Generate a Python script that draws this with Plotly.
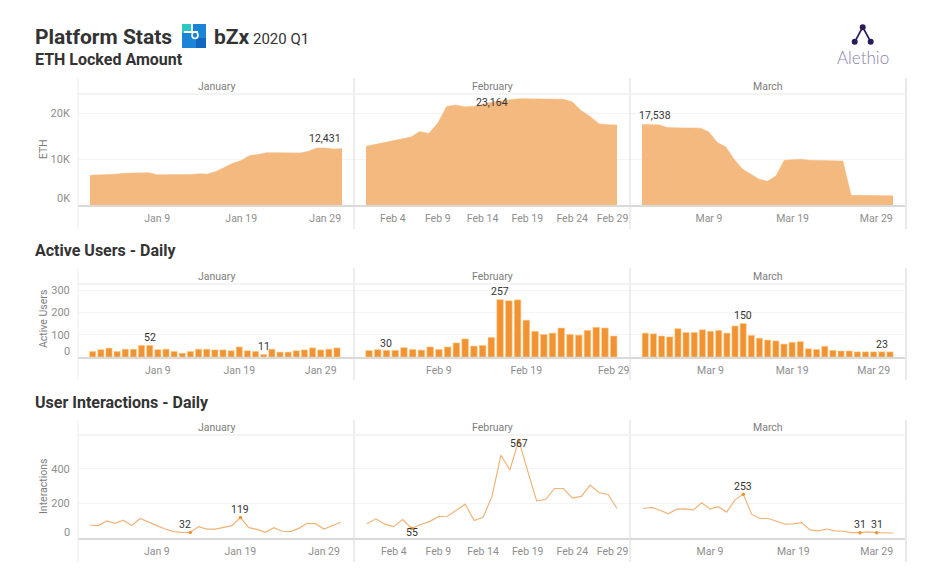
import pandas as pd
import plotly.graph_objects as go

W, H = 946, 584

# ---------- data ----------
months = ["January", "February", "March"]
jan_dates = pd.date_range("2020-01-01", "2020-01-31").strftime("%Y-%m-%d").tolist()
feb_dates = pd.date_range("2020-02-01", "2020-02-29").strftime("%Y-%m-%d").tolist()
mar_dates = pd.date_range("2020-03-01", "2020-03-31").strftime("%Y-%m-%d").tolist()

eth_jan = [6500, 6550, 6600, 6700, 6900, 6950, 7000, 7050, 6600, 6600, 6550, 6600, 6650, 6800, 6750, 7300,
           8200, 9100, 9700, 10800, 11000, 11400, 11400, 11400, 11400, 11350, 11700, 12400, 12431, 12200, 12300]
eth_feb = [12800, 13200, 13500, 13900, 14300, 14800, 16000, 15600, 17800, 21500, 21800, 21400, 21500, 22000, 22400,
           22700, 22900, 23164, 23164, 23164, 23164, 23120, 23050, 22500, 20600, 19300, 17700, 17500, 17450]
eth_mar = [17538, 17500, 17500, 16900, 16800, 16800, 16800, 16750, 15900, 13600, 12700, 10000, 7850, 6700, 5600, 5200,
           6300, 9750, 9800, 10000, 9750, 9750, 9750, 9750, 9600, 2100, 2100, 2100, 2050, 2050, 2000]

users_jan = [25, 33, 40, 25, 35, 35, 52, 52, 33, 35, 25, 17, 25, 35, 35, 32, 32, 28, 45, 28, 25, 11, 35, 22, 22, 28,
             32, 41, 32, 35, 41]
users_feb = [29, 33, 30, 30, 42, 34, 31, 45, 34, 45, 63, 81, 49, 52, 88, 257, 252, 256, 165, 115, 101, 107, 130, 101,
             98, 119, 133, 130, 94]
users_mar = [107, 104, 94, 90, 127, 110, 110, 122, 115, 119, 107, 139, 150, 97, 84, 76, 72, 58, 66, 69, 37, 34, 48,
             30, 27, 27, 23, 23, 23, 23, 23]

inter_jan = [74, 72, 99, 85, 103, 72, 113, 91, 72, 52, 37, 33, 32, 66, 52, 52, 64, 72, 119, 60, 50, 33, 60, 39, 37,
             56, 85, 83, 52, 72, 91]
inter_feb = [82, 111, 80, 66, 107, 55, 78, 95, 124, 126, 161, 196, 101, 120, 241, 480, 394, 567, 388, 215, 223, 287,
             287, 231, 241, 307, 262, 252, 171]
inter_mar = [171, 177, 161, 140, 167, 169, 163, 204, 167, 181, 150, 221, 253, 138, 113, 113, 97, 80, 82, 89, 47, 41,
             52, 41, 39, 31, 31, 35, 31, 31, 29]

section_titles = ["ETH Locked Amount", "Active Users - Daily", "User Interactions - Daily"]
y_titles = ["ETH", "Active Users", "Interactions"]

eth_ticks = [10000, 20000]
eth_ticktext = ["10K", "20K"]
users_ticks = [100, 200, 300]
inter_ticks = [200, 400]

ticks_row1 = [["Jan 9", "Jan 19", "Jan 29"],
              ["Feb 4", "Feb 9", "Feb 14", "Feb 19", "Feb 24", "Feb 29"],
              ["Mar 9", "Mar 19", "Mar 29"]]
ticks_row2 = [["Jan 9", "Jan 19", "Jan 29"],
              ["Feb 9", "Feb 19", "Feb 29"],
              ["Mar 9", "Mar 19", "Mar 29"]]
ticks_row3 = ticks_row1

# (column, day index from 1, text)
eth_labels = [(0, 29, "12,431"), (1, 15, "23,164"), (2, 1, "17,538")]
users_labels = [(0, 8, "52"), (0, 22, "11"), (1, 3, "30"), (1, 16, "257"), (2, 13, "150"), (2, 30, "23")]
inter_labels = [(0, 13, "32"), (0, 19, "119"), (1, 6, "55"), (1, 18, "567"), (2, 13, "253"), (2, 27, "31"), (2, 29, "31")]

# ---------- layout constants ----------
TXT = "#333333"
TICK = "#8e8e8e"
STRIP = "#7d7d7d"
GRID = "#f4f4f4"
BASE = "#d9d9d9"
AREA = "#f4b97f"
BAR = "#f19233"
BAR_EDGE = "#fbd08f"
LINE = "#f2b378"
FONT = "Roboto"

dates = [jan_dates, feb_dates, mar_dates]
col_edges = [(78, 354), (354, 630), (630, 906)]
# pixel position of first and last day in each panel
row_cal = [
    [(90, 342), (366, 617), (642, 893)],
    [(92.7, 337), (369, 613.7), (645.3, 890)],
    [(90, 340.7), (367, 617), (643.3, 893.3)],
]
# top of panel, strip line, baseline, bottom of panel
row_geo = [(78, 94, 205, 229), (268, 284, 357, 380), (420, 435, 538, 562)]
y_ranges = [(0, 24200), (0, 327), (0, 597)]


def px(x):
    return x / W


def py(y):
    return 1 - y / H


def x_range(col, row):
    a, b = row_cal[row][col]
    n = len(dates[col]) - 1
    rate = (b - a) / n
    start = pd.Timestamp(dates[col][0])
    left, right = col_edges[col]
    return [(start + pd.Timedelta(days=(left - a) / rate)).isoformat(),
            (start + pd.Timedelta(days=(right - a) / rate)).isoformat()]


def tick_date(label, row):
    mon, day = label.split()
    m = {"Jan": 1, "Feb": 2, "Mar": 3}[mon]
    ts = pd.Timestamp(2020, m, int(day))
    if label == "Feb 29" and row != 1:
        ts -= pd.Timedelta(hours=12)  # end label is pulled inside the panel
    return ts.isoformat()


def note(x, y, text, size, color, xanchor="center", **kw):
    return dict(xref="paper", yref="paper", x=px(x), y=py(y), text=text, showarrow=False, xanchor=xanchor,
                yanchor="middle", font=dict(family=kw.pop("family", FONT), size=size, color=color), **kw)


fig = go.Figure()
layout = {}
annotations = []
shapes = []
tick_rows = [ticks_row1, ticks_row2, ticks_row3]
series = [[eth_jan, eth_feb, eth_mar], [users_jan, users_feb, users_mar], [inter_jan, inter_feb, inter_mar]]
ytick_vals = [eth_ticks, users_ticks, inter_ticks]
ytick_text = [eth_ticktext, [str(v) for v in users_ticks], [str(v) for v in inter_ticks]]

for r in range(3):
    top, strip, base, bottom = row_geo[r]
    for c in range(3):
        idx = r * 3 + c + 1
        xn, yn = f"x{idx}", f"y{idx}"
        xk, yk = f"xaxis{idx}", f"yaxis{idx}"
        layout[xk] = dict(
            domain=[px(col_edges[c][0]), px(col_edges[c][1])], range=x_range(c, r), type="date", anchor=yn,
            tickmode="array", tickvals=[tick_date(t, r) for t in tick_rows[r][c]], ticktext=tick_rows[r][c],
            tickfont=dict(family=FONT, size=10.5, color=TICK), showgrid=False, zeroline=False,
            showline=True, linecolor=BASE, linewidth=1.5, ticks="outside", ticklen=3, tickcolor="rgba(0,0,0,0)",
        )
        layout[yk] = dict(
            domain=[py(base), py(strip)], range=list(y_ranges[r]), anchor=xn, tickmode="array",
            tickvals=ytick_vals[r], ticktext=ytick_text[r], showticklabels=c == 0,
            tickfont=dict(family=FONT, size=11, color=TICK), showgrid=True, gridcolor=GRID, gridwidth=1,
            zeroline=False, showline=False, ticks="outside" if c == 0 else "", ticklen=5,
            tickcolor="rgba(0,0,0,0)",
        )
        y = series[r][c]
        if r == 0:
            fig.add_trace(go.Scatter(x=dates[c], y=y, mode="lines", fill="tozeroy", fillcolor=AREA,
                                     line=dict(color=AREA, width=0.5), xaxis=xn, yaxis=yn, showlegend=False))
        elif r == 1:
            fig.add_trace(go.Bar(x=dates[c], y=y, width=0.76 * 86400000, marker=dict(color=BAR, line=dict(color=BAR_EDGE, width=0.6)),
                                 xaxis=xn, yaxis=yn, showlegend=False))
        else:
            fig.add_trace(go.Scatter(x=dates[c], y=y, mode="lines", line=dict(color=LINE, width=1.2),
                                     xaxis=xn, yaxis=yn, showlegend=False))
            pts = [l[1] - 1 for l in inter_labels if l[0] == c]
            fig.add_trace(go.Scatter(x=[dates[c][i] for i in pts], y=[y[i] for i in pts], mode="markers",
                                     marker=dict(color=BAR, size=3.5), xaxis=xn, yaxis=yn, showlegend=False))
        annotations.append(note(sum(col_edges[c]) / 2, (top + strip) / 2, months[c], 10.5, STRIP))

    # section title, y title, zero label
    title_y = [60, 250, 402][r]
    annotations.append(note(33, title_y, f"<b>{section_titles[r]}</b>", 16, TXT, xanchor="left"))
    annotations.append(note(43.5, (strip + base) / 2 - [0, 1, 0][r], y_titles[r], 10.5, STRIP, textangle=-90))
    annotations.append(note(72, base - 6, ["0K", "0", "0"][r], 11, TICK, xanchor="right"))
    # panel dividers and strip rule
    for xp, col, wd in [(78, "#ececec", 1), (354, "#dcdcdc", 1), (630, "#dcdcdc", 1), (906, "#e8e8e8", 2)]:
        shapes.append(dict(type="line", xref="paper", yref="paper", x0=px(xp), x1=px(xp), y0=py(top), y1=py(bottom),
                           line=dict(color=col, width=wd)))
    shapes.append(dict(type="line", xref="paper", yref="paper", x0=px(78), x1=px(906), y0=py(strip), y1=py(strip),
                       line=dict(color="#f0f0f0", width=1.5)))

# value labels
label_sets = [eth_labels, users_labels, inter_labels]
shift_y = [[9, 0, 9], [8, 8, 7, 8, 8, 7], [8, 8, -4, -3, 8, 8, 8]]
shift_x = {(2, 0): -5, (0, 2): 13}
for r in range(3):
    for k, (c, d, text) in enumerate(label_sets[r]):
        idx = r * 3 + c + 1
        annotations.append(dict(xref=f"x{idx}", yref=f"y{idx}", x=dates[c][d - 1], y=series[r][c][d - 1], text=text,
                                showarrow=False, xanchor="center", yanchor="middle",
                                yshift=shift_y[r][k], xshift=shift_x.get((r, k), 0),
                                font=dict(family=FONT, size=10.5, color=TXT)))

# header
annotations += [
    note(33, 37, "<b>Platform Stats</b>", 21, TXT, xanchor="left"),
    note(212, 37, "<b>bZx</b>", 21, TXT, xanchor="left"),
    note(251, 38.5, "2020 Q1", 15, TXT, xanchor="left"),
    note(862.5, 58, "Alethio", 17, "#8a82ab", family="Lato Light"),
]


# bZx logo
def rect(x0, y0, x1, y1, col):
    return dict(type="rect", xref="paper", yref="paper", x0=px(x0), x1=px(x1), y0=py(y0), y1=py(y1),
                fillcolor=col, line=dict(width=0))


def seg(x0, y0, x1, y1, col, w):
    return dict(type="line", xref="paper", yref="paper", x0=px(x0), x1=px(x1), y0=py(y0), y1=py(y1),
                line=dict(color=col, width=w))


def dot(cx, cy, rad, col):
    return dict(type="circle", xref="paper", yref="paper", x0=px(cx - rad), x1=px(cx + rad), y0=py(cy - rad), y1=py(cy + rad),
                fillcolor=col, line=dict(width=0))


shapes += [
    rect(182, 24, 206, 48, "#1b84d6"),
    rect(206 - 10, 38, 206, 48, "#1166c0"),
    rect(182, 24, 192, 33, "#2ec6c4"),
    seg(192, 24, 192, 33, "white", 2),
    seg(184, 32, 198, 32, "white", 2),
    dict(type="circle", xref="paper", yref="paper", x0=px(192), x1=px(198), y0=py(32), y1=py(38.5), fillcolor="rgba(0,0,0,0)",
         line=dict(color="white", width=1.6)),
    seg(862.7, 27, 855, 41.5, "#2c1a5a", 1.6),
    seg(862.7, 27, 870.5, 41.5, "#2c1a5a", 1.6),
    dot(862.7, 27.3, 3, "#2c1a5a"),
    dot(854.7, 41.7, 3, "#2c1a5a"),
    dot(870.7, 41.7, 3, "#2c1a5a"),
]

fig.update_layout(width=W, height=H, margin=dict(l=0, r=0, t=0, b=0), paper_bgcolor="white", plot_bgcolor="white",
                  annotations=annotations, shapes=shapes, showlegend=False, barmode="overlay", **layout)
fig.write_html("out.html", config={"displayModeBar": False}, post_script="document.body.style.margin='0';")
